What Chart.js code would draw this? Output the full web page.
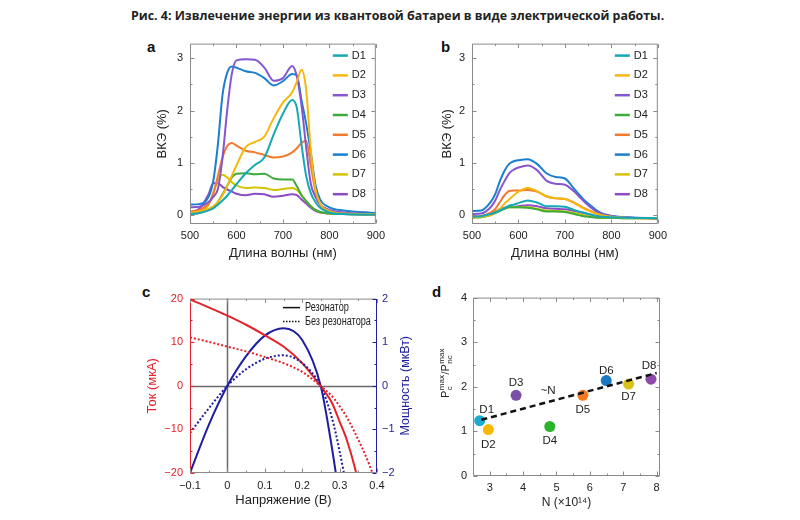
<!DOCTYPE html>
<html>
<head>
<meta charset="utf-8">
<script src="https://cdn.jsdelivr.net/npm/chart.js@4/dist/chart.umd.min.js"></script>
<style>
  body { margin: 0; background: #fff; width: 800px; height: 520px; position: relative; overflow: hidden; }
  #title { position: absolute; left: 131px; top: 7px; white-space: nowrap; font: bold 12.4px "Open Sans", sans-serif; color: #222; }
  canvas { position: absolute; }
  .lbl { position: absolute; font: bold 15px/1 "Liberation Sans", Arial, sans-serif; color: #111; }
</style>
</head>
<body>
<div id="title">Рис. 4: Извлечение энергии из квантовой батареи в виде электрической работы.</div>
<div class="lbl" style="left:147px;top:39px">a</div>
<div class="lbl" style="left:441px;top:39px">b</div>
<div class="lbl" style="left:142px;top:284px">c</div>
<div class="lbl" style="left:432px;top:284px">d</div>
<canvas id="chartA" width="260" height="240" style="left:130px;top:30px"></canvas>
<canvas id="chartB" width="260" height="240" style="left:412px;top:30px"></canvas>
<canvas id="chartC" width="300" height="230" style="left:130px;top:285px"></canvas>
<canvas id="chartD" width="260" height="230" style="left:412px;top:285px"></canvas>
<script>
// Данные: панели a и b (ВКЭ по длине волны)
const wavelengths = [500, 520, 540, 550, 560, 570, 580, 590, 600, 620, 640, 660, 680, 700, 720, 730, 740, 750, 760, 770, 780, 800, 830, 900];
const seriesNames = ['D1', 'D2', 'D3', 'D4', 'D5', 'D6', 'D7', 'D8'];
const seriesColors = ['#14a8b6', '#f6b70c', '#8656d0', '#3cab3a', '#f27a2e', '#1b7fd0', '#d5c300', '#8b4cc6'];
const waveTicks = [500, 600, 700, 800, 900];
const qeTicks = [0, 1, 2, 3];

// с резонатором (a)
const cavD1 = [0.02, 0.04, 0.09, 0.13, 0.2, 0.28, 0.37, 0.48, 0.59, 0.8, 0.96, 1.1, 1.54, 1.94, 2.2, 2.05, 1.35, 0.75, 0.42, 0.25, 0.14, 0.05, 0.02, 0.01];
const cavD2 = [0.05, 0.07, 0.12, 0.17, 0.25, 0.38, 0.55, 0.75, 0.95, 1.3, 1.4, 1.5, 1.85, 2.15, 2.35, 2.55, 2.78, 2.4, 1.25, 0.5, 0.22, 0.08, 0.03, 0.02];
const cavD3 = [0.15, 0.16, 0.25, 0.35, 0.5, 1.1, 2.0, 2.7, 2.96, 2.98, 2.97, 2.82, 2.57, 2.62, 2.85, 2.65, 2.1, 1.3, 0.6, 0.35, 0.2, 0.1, 0.05, 0.02];
const cavD4 = [0.02, 0.04, 0.1, 0.15, 0.25, 0.4, 0.56, 0.72, 0.79, 0.8, 0.78, 0.79, 0.7, 0.68, 0.68, 0.55, 0.38, 0.27, 0.17, 0.1, 0.06, 0.03, 0.02, 0.01];
const cavD5 = [0.07, 0.1, 0.22, 0.4, 0.75, 1.1, 1.32, 1.38, 1.33, 1.23, 1.2, 1.15, 1.1, 1.12, 1.2, 1.28, 1.38, 1.42, 0.95, 0.45, 0.2, 0.08, 0.03, 0.02];
const cavD6 = [0.2, 0.21, 0.35, 0.65, 1.35, 2.3, 2.72, 2.84, 2.82, 2.75, 2.72, 2.62, 2.48, 2.56, 2.7, 2.67, 2.2, 1.75, 1.2, 0.58, 0.3, 0.15, 0.09, 0.04];
const cavD7 = [0.03, 0.06, 0.2, 0.43, 0.66, 0.77, 0.72, 0.63, 0.57, 0.52, 0.53, 0.52, 0.48, 0.5, 0.52, 0.48, 0.38, 0.27, 0.17, 0.1, 0.06, 0.03, 0.02, 0.01];
const cavD8 = [0.05, 0.12, 0.4, 0.61, 0.61, 0.54, 0.49, 0.45, 0.41, 0.38, 0.41, 0.4, 0.35, 0.37, 0.4, 0.38, 0.3, 0.22, 0.14, 0.08, 0.05, 0.03, 0.02, 0.01];

// без резонатора (b)
const openD1 = [-0.03, -0.02, 0.02, 0.05, 0.09, 0.13, 0.18, 0.2, 0.23, 0.28, 0.24, 0.17, 0.17, 0.16, 0.1, 0.07, 0.05, 0.02, 0.0, -0.02, -0.03, -0.04, -0.05, -0.06];
const openD2 = [-0.05, -0.03, 0.0, 0.05, 0.12, 0.22, 0.3, 0.38, 0.45, 0.52, 0.46, 0.36, 0.32, 0.31, 0.23, 0.18, 0.13, 0.09, 0.05, 0.02, 0.0, -0.03, -0.05, -0.06];
const openD3 = [0.02, 0.03, 0.15, 0.28, 0.48, 0.65, 0.8, 0.87, 0.91, 0.95, 0.86, 0.66, 0.6, 0.58, 0.45, 0.36, 0.27, 0.19, 0.12, 0.06, 0.02, -0.02, -0.04, -0.06];
const openD4 = [-0.05, -0.04, 0.0, 0.04, 0.08, 0.12, 0.15, 0.15, 0.15, 0.14, 0.11, 0.07, 0.07, 0.06, 0.02, 0.0, -0.02, -0.03, -0.04, -0.05, -0.05, -0.05, -0.06, -0.06];
const openD5 = [-0.05, -0.02, 0.05, 0.12, 0.25, 0.38, 0.46, 0.47, 0.47, 0.48, 0.45, 0.36, 0.32, 0.31, 0.24, 0.19, 0.14, 0.1, 0.06, 0.03, 0.0, -0.03, -0.05, -0.06];
const openD6 = [0.08, 0.09, 0.25, 0.4, 0.65, 0.85, 0.98, 1.03, 1.05, 1.07, 0.98, 0.8, 0.73, 0.7, 0.5, 0.4, 0.3, 0.22, 0.15, 0.08, 0.03, -0.01, -0.04, -0.06];
const openD7 = [-0.04, -0.03, 0.02, 0.06, 0.1, 0.13, 0.15, 0.15, 0.15, 0.15, 0.12, 0.09, 0.08, 0.07, 0.04, 0.02, 0.0, -0.02, -0.03, -0.04, -0.05, -0.05, -0.06, -0.06];
const openD8 = [-0.03, -0.02, 0.03, 0.07, 0.11, 0.14, 0.16, 0.16, 0.17, 0.19, 0.17, 0.13, 0.12, 0.11, 0.08, 0.06, 0.04, 0.02, 0.0, -0.02, -0.03, -0.04, -0.05, -0.06];

// Панель c: ток и мощность от напряжения
const voltage = [-0.1, -0.05, 0, 0.05, 0.1, 0.15, 0.2, 0.25, 0.28, 0.3, 0.32, 0.34, 0.36, 0.38, 0.39];
const currentCav = [19.8, 18.0, 16.1, 14.0, 11.6, 9.0, 5.2, -0.2, -4.0, -8.2, -12.6, -18.5, -26, -34, -38];
const currentNoCav = [11.1, 10.1, 9.0, 7.9, 6.6, 5.2, 3.2, -0.1, -2.4, -4.7, -7.3, -10.6, -14.2, -18.2, -20.5];
const powerCav = [-2.0, -0.9, 0, 0.68, 1.15, 1.32, 1.05, -0.02, -1.45, -2.6, -3.8, -5.0, -6.5, -8.0, -9.0];
const powerNoCav = [-1.08, -0.52, 0, 0.38, 0.62, 0.7, 0.52, -0.02, -0.75, -1.5, -2.4, -3.4, -4.5, -5.5, -6.2];
const voltTicks = [-0.1, 0, 0.1, 0.2, 0.3, 0.4];
const currentTicks = [-20, -10, 0, 10, 20];
const powerTicks = [-2, -1, 0, 1, 2];

// Панель d: отношение мощностей от N
const deviceN = [2.70, 2.96, 3.79, 4.80, 5.79, 6.49, 7.16, 7.83];
const powerRatio = [1.24, 1.04, 1.81, 1.11, 1.81, 2.14, 2.06, 2.17];
const deviceColors = ['#1aaccc', '#f8b700', '#7c4fa6', '#2cb52c', '#f47a20', '#1a78c2', '#d9c21a', '#8e4aa8'];
const trendN = [2.75, 8.0];
const trendRatio = [1.26, 2.31];
const nTicks = [3, 4, 5, 6, 7, 8];
const ratioTicks = [0, 1, 2, 3, 4];
const labelDx = [7, 0, 0, 0, 0, 0, 0, -2];
const labelDy = [-11, 15, -12, 14, 15, -10, 13, -13];

const RED = '#e3222a';
const BLUE = '#1e1e9e';
const FRAME = '#8a8a8a';
const FONT = '"Liberation Sans", Arial, sans-serif';

Chart.defaults.font.family = FONT;
Chart.defaults.color = '#222';

const minus = v => String(v).replace('-', '\u2212');

// рамка с засечками внутрь
function tickMarks(min, max, minor, major) {
    const out = [];
    for (let k = Math.ceil(min / minor - 1e-9); k <= Math.floor(max / minor + 1e-9); k++) {
        const v = k * minor;
        const r = v / major;
        out.push([v, Math.abs(r - Math.round(r)) < 1e-6]);
    }
    return out;
}

function framePlugin(o) {
    return {
        id: 'frame',
        afterDatasetsDraw(chart) {
            const {ctx, chartArea: a, scales} = chart;
            const xs = scales.x, ys = scales.y;
            const yr = scales.y2 || scales.y;
            ctx.save();
            ctx.lineWidth = 1;
            const line = (x1, y1, x2, y2, col) => {
                ctx.strokeStyle = col;
                ctx.beginPath();
                ctx.moveTo(x1, y1);
                ctx.lineTo(x2, y2);
                ctx.stroke();
            };
            const L = a.left + 0.5, R = a.right - 0.5, T = a.top + 0.5, B = a.bottom - 0.5;
            line(L, T, R, T, FRAME);
            line(L, B, R, B, FRAME);
            line(L, T, L, B, o.leftColor || FRAME);
            line(R, T, R, B, o.rightColor || FRAME);
            tickMarks(xs.min, xs.max, o.xMinor, o.xMajor).forEach(([v, big]) => {
                const p = Math.round(xs.getPixelForValue(v)) + 0.5;
                const len = big ? 4 : 2;
                line(p, B, p, B - len, FRAME);
                line(p, T, p, T + len, FRAME);
            });
            tickMarks(ys.min, ys.max, o.yMinor, o.yMajor).forEach(([v, big]) => {
                const p = Math.round(ys.getPixelForValue(v)) + 0.5;
                line(L, p, L + (big ? 4 : 2), p, o.leftColor || FRAME);
            });
            tickMarks(yr.min, yr.max, o.rMinor || o.yMinor, o.rMajor || o.yMajor).forEach(([v, big]) => {
                const p = Math.round(yr.getPixelForValue(v)) + 0.5;
                line(R, p, R - (big ? 4 : 2), p, o.rightColor || FRAME);
            });
            ctx.restore();
        }
    };
}

// легенда D1..D8 внутри области графика
const seriesLegend = {
    id: 'seriesLegend',
    afterDatasetsDraw(chart) {
        const {ctx, chartArea: a} = chart;
        ctx.save();
        ctx.font = '11px ' + FONT;
        ctx.textBaseline = 'middle';
        seriesNames.forEach((name, i) => {
            const y = a.top + 12 + i * 19.8;
            ctx.strokeStyle = seriesColors[i];
            ctx.lineWidth = 2.5;
            ctx.beginPath();
            ctx.moveTo(a.right - 43, y);
            ctx.lineTo(a.right - 28, y);
            ctx.stroke();
            ctx.fillStyle = '#222';
            ctx.fillText(name, a.right - 24, y);
        });
        ctx.restore();
    }
};

const fixTicks = list => s => { s.ticks = list.map(v => ({value: v})); };

function spectrumChart(id, series, rightPad, titlePad) {
    return new Chart(document.getElementById(id), {
        type: 'line',
        data: {
            datasets: series.map((vals, i) => ({
                label: seriesNames[i],
                data: wavelengths.map((w, j) => ({x: w, y: vals[j]})),
                borderColor: seriesColors[i],
                borderWidth: 2,
                pointRadius: 0,
                cubicInterpolationMode: 'monotone',
                fill: false
            }))
        },
        options: {
            animation: false,
            responsive: false,
            devicePixelRatio: 1,
            layout: {padding: {top: 8, right: rightPad, left: 0, bottom: 0}},
            plugins: {legend: {display: false}, tooltip: {enabled: false}},
            scales: {
                x: {
                    type: 'linear', min: 500, max: 900,
                    afterBuildTicks: fixTicks(waveTicks),
                    afterFit: s => { s.height = 46; },
                    grid: {display: false, drawTicks: false},
                    border: {display: false},
                    ticks: {font: {size: 11}, padding: 5, maxRotation: 0},
                    title: {display: true, text: 'Длина волны (нм)', font: {size: 13}, padding: {top: 0, bottom: 9}}
                },
                y: {
                    type: 'linear', min: -0.17, max: 3.28,
                    afterBuildTicks: fixTicks(qeTicks),
                    afterFit: s => { s.width = 60; },
                    grid: {display: false, drawTicks: false},
                    border: {display: false},
                    ticks: {font: {size: 11}, padding: 7},
                    title: {display: true, text: 'ВКЭ (%)', font: {size: 13}, padding: {top: titlePad, bottom: 0}}
                }
            }
        },
        plugins: [framePlugin({xMinor: 50, xMajor: 100, yMinor: 0.5, yMajor: 1}), seriesLegend]
    });
}

spectrumChart('chartA', [cavD1, cavD2, cavD3, cavD4, cavD5, cavD6, cavD7, cavD8], 13, 25);
spectrumChart('chartB', [openD1, openD2, openD3, openD4, openD5, openD6, openD7, openD8], 14, 28);

// Панель c
const ivLegend = {
    id: 'ivLegend',
    beforeDatasetsDraw(chart) {
        const {ctx, chartArea: a, scales} = chart;
        const x0 = Math.round(scales.x.getPixelForValue(0)) + 0.5;
        const y0 = Math.round(scales.y.getPixelForValue(0)) + 0.5;
        ctx.save();
        ctx.strokeStyle = '#6a6a6a';
        ctx.lineWidth = 1.5;
        ctx.beginPath();
        ctx.moveTo(x0, a.top); ctx.lineTo(x0, a.bottom);
        ctx.moveTo(a.left, y0); ctx.lineTo(a.right, y0);
        ctx.stroke();
        ctx.restore();
    },
    afterDatasetsDraw(chart) {
        const {ctx, chartArea: a} = chart;
        ctx.save();
        ctx.strokeStyle = '#111';
        ctx.lineWidth = 1.5;
        ctx.fillStyle = '#222';
        ctx.textBaseline = 'middle';
        [['Резонатор', []], ['Без резонатора', [1.5, 1.5]]].forEach(([text, dash], i) => {
            const y = a.top + 9 + i * 14;
            ctx.setLineDash(dash);
            ctx.beginPath();
            ctx.moveTo(a.right - 94, y);
            ctx.lineTo(a.right - 77, y);
            ctx.stroke();
            // узкий шрифт: сжимаем по горизонтали
            ctx.save();
            ctx.translate(a.right - 72, y);
            ctx.scale(0.76, 1);
            ctx.font = '12px ' + FONT;
            ctx.fillText(text, 0, 0);
            ctx.restore();
        });
        ctx.setLineDash([]);
        // подпись правой оси
        ctx.translate(chart.width - 24, (a.top + a.bottom) / 2);
        ctx.rotate(-Math.PI / 2);
        ctx.font = '12.5px ' + FONT;
        ctx.fillStyle = BLUE;
        ctx.textAlign = 'center';
        ctx.fillText('Мощность (мкВт)', 0, 0);
        ctx.restore();
    }
};

const ivSet = (vals, axis, color, dash) => ({
    data: voltage.map((v, i) => ({x: v, y: vals[i]})),
    yAxisID: axis,
    borderColor: color,
    borderWidth: 2,
    borderDash: dash,
    pointRadius: 0,
    cubicInterpolationMode: 'monotone',
    fill: false
});

new Chart(document.getElementById('chartC'), {
    type: 'line',
    data: {
        datasets: [
            ivSet(currentNoCav, 'y', RED, [2, 2]),
            ivSet(powerNoCav, 'y2', BLUE, [2, 2]),
            ivSet(currentCav, 'y', RED, []),
            ivSet(powerCav, 'y2', BLUE, [])
        ]
    },
    options: {
        animation: false,
        responsive: false,
        devicePixelRatio: 1,
        layout: {padding: {top: 7, right: 0, left: 0, bottom: 0}},
        plugins: {legend: {display: false}, tooltip: {enabled: false}},
        scales: {
            x: {
                type: 'linear', min: -0.1, max: 0.4,
                afterBuildTicks: fixTicks(voltTicks),
                afterFit: s => { s.height = 42; },
                grid: {display: false, drawTicks: false},
                border: {display: false},
                ticks: {font: {size: 11}, padding: 6, maxRotation: 0, callback: v => minus(v)},
                title: {display: true, text: 'Напряжение (В)', font: {size: 13}, padding: {top: 0, bottom: 7}}
            },
            y: {
                position: 'left', min: -20, max: 20,
                afterBuildTicks: fixTicks(currentTicks),
                afterFit: s => { s.width = 60; },
                grid: {display: false, drawTicks: false},
                border: {display: false},
                ticks: {font: {size: 11}, padding: 7, color: RED, callback: v => minus(v)},
                title: {display: true, text: 'Ток (мкА)', color: RED, font: {size: 13}, padding: {top: 15, bottom: 0}}
            },
            y2: {
                position: 'right', min: -2, max: 2,
                afterBuildTicks: fixTicks(powerTicks),
                afterFit: s => { s.width = 53; },
                grid: {display: false, drawTicks: false},
                border: {display: false},
                ticks: {font: {size: 11}, padding: 5, color: BLUE, callback: v => minus(v)}
            }
        }
    },
    plugins: [framePlugin({xMinor: 0.05, xMajor: 0.1, yMinor: 5, yMajor: 10, rMinor: 0.5, rMajor: 1, leftColor: RED, rightColor: BLUE}), ivLegend]
});

// Панель d
const ratioLabels = {
    id: 'ratioLabels',
    afterDatasetsDraw(chart) {
        const {ctx, scales} = chart;
        ctx.save();
        ctx.fillStyle = '#222';
        ctx.font = '11.5px ' + FONT;
        ctx.textAlign = 'center';
        ctx.textBaseline = 'middle';
        seriesNames.forEach((name, i) => {
            const px = scales.x.getPixelForValue(deviceN[i]) + labelDx[i];
            const py = scales.y.getPixelForValue(powerRatio[i]) + labelDy[i];
            ctx.fillText(name, px, py);
        });
        ctx.fillText('~N', scales.x.getPixelForValue(4.75), scales.y.getPixelForValue(1.9));
        // подпись оси y: P_c^max / P_nc^max
        ctx.translate(33, 88);
        ctx.rotate(-Math.PI / 2);
        ctx.textAlign = 'left';
        ctx.textBaseline = 'alphabetic';
        const big = '11px ' + FONT, small = '8px ' + FONT;
        const parts = [['P', null], ['max', 'c'], ['/P', null], ['max', 'nc']];
        const widths = parts.map(([t, sub]) => {
            if (sub === null) { ctx.font = big; return ctx.measureText(t).width; }
            ctx.font = small;
            return Math.max(ctx.measureText(t).width, ctx.measureText(sub).width) + 1;
        });
        let x = -widths.reduce((s, w) => s + w, 0) / 2;
        parts.forEach(([t, sub], i) => {
            if (sub === null) {
                ctx.font = big;
                ctx.fillText(t, x, 4);
            } else {
                ctx.font = small;
                ctx.fillText(t, x + 0.5, -1);
                ctx.fillText(sub, x + 0.5, 7);
            }
            x += widths[i];
        });
        ctx.restore();
    }
};

new Chart(document.getElementById('chartD'), {
    type: 'line',
    data: {
        datasets: [
            {
                data: trendN.map((n, i) => ({x: n, y: trendRatio[i]})),
                borderColor: '#111',
                borderWidth: 2.5,
                borderDash: [6, 4],
                pointRadius: 0,
                fill: false
            },
            {
                data: deviceN.map((n, i) => ({x: n, y: powerRatio[i]})),
                showLine: false,
                pointRadius: 5.5,
                pointBorderWidth: 0,
                pointBackgroundColor: deviceColors,
                pointBorderColor: deviceColors
            }
        ]
    },
    options: {
        animation: false,
        responsive: false,
        devicePixelRatio: 1,
        layout: {padding: {top: 5, right: 12, left: 0, bottom: 0}},
        plugins: {legend: {display: false}, tooltip: {enabled: false}},
        scales: {
            x: {
                type: 'linear', min: 2.5, max: 8.1,
                afterBuildTicks: fixTicks(nTicks),
                afterFit: s => { s.height = 39; },
                grid: {display: false, drawTicks: false},
                border: {display: false},
                ticks: {font: {size: 11}, padding: 5, maxRotation: 0},
                title: {display: true, text: 'N (×10¹⁴)', font: {size: 12}, padding: {top: 0, bottom: 5}}
            },
            y: {
                type: 'linear', min: 0, max: 4,
                afterBuildTicks: fixTicks(ratioTicks),
                afterFit: s => { s.width = 61; },
                grid: {display: false, drawTicks: false},
                border: {display: false},
                ticks: {font: {size: 11}, padding: 6}
            }
        }
    },
    plugins: [framePlugin({xMinor: 0.5, xMajor: 1, yMinor: 0.5, yMajor: 1}), ratioLabels]
});
</script>
</body>
</html>
